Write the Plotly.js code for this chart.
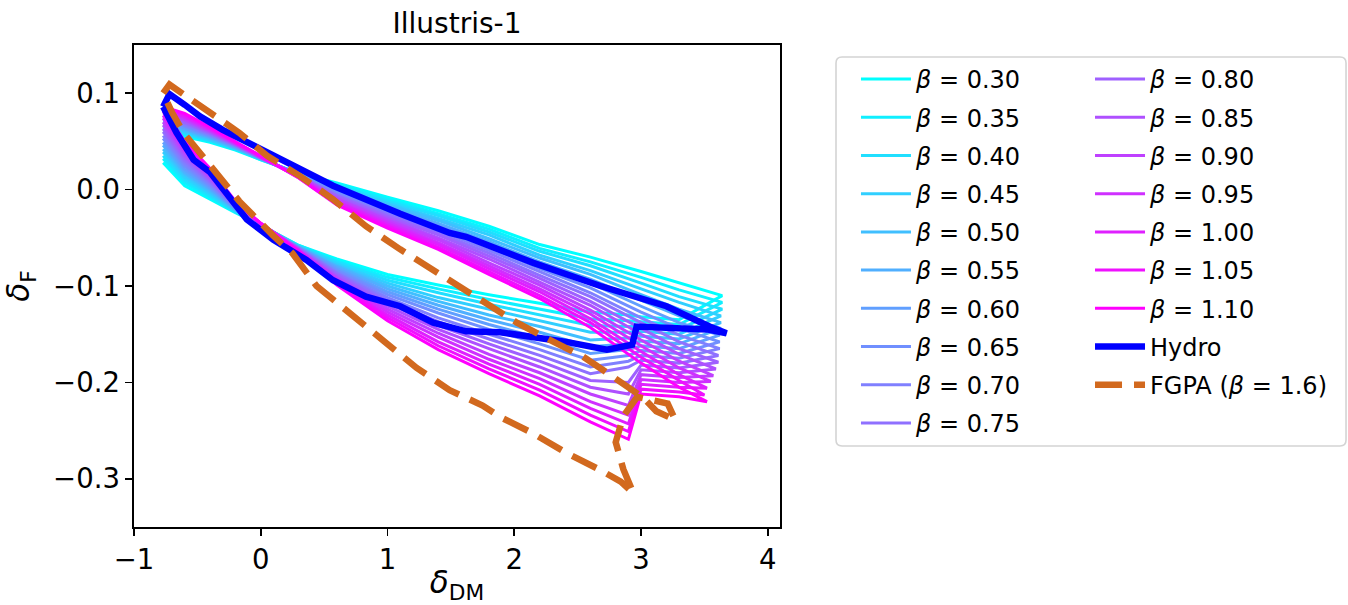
<!DOCTYPE html>
<html><head><meta charset="utf-8">
<script src="https://cdn.plot.ly/plotly-3.0.1.min.js"></script>
<style>html,body{margin:0;padding:0;background:#fff;} #chart{width:1348px;height:605px;}</style>
</head><body><div id="chart"></div>
<script>
// beta values of the contours
const betas = [0.30,0.35,0.40,0.45,0.50,0.55,0.60,0.65,0.70,0.75,0.80,0.85,0.90,0.95,1.00,1.05,1.10];
// delta_DM positions along the top edge (left to right) and bottom edge (right to left)
const xTop = [-0.77,-0.6,-0.4,-0.2,0.0,0.3,0.6,1.0,1.4,1.8,2.2,2.6,3.0,3.3];
const xBot = [3.3,3.0,2.9,2.6,2.2,1.8,1.4,1.0,0.6,0.3,0.0,-0.2,-0.4,-0.6,-0.77];
const tipX = [3.64,3.64,3.64,3.63,3.63,3.63,3.62,3.62,3.62,3.61,3.61,3.59,3.57,3.55,3.52,3.50,3.52];
// delta_F along each contour: 14 top-edge values, tip, 15 bottom-edge values
const beta030 = [0.062,0.055,0.049,0.041,0.031,0.017,0.007,-0.008,-0.022,-0.038,-0.057,-0.070,-0.085,-0.097, -0.110, -0.135,-0.132,-0.130,-0.127,-0.118,-0.109,-0.099,-0.088,-0.072,-0.058,-0.037,-0.024,-0.010,0.004,0.028];
const beta035 = [0.064,0.057,0.050,0.042,0.031,0.017,0.006,-0.010,-0.025,-0.041,-0.061,-0.075,-0.091,-0.104, -0.117, -0.140,-0.137,-0.136,-0.134,-0.124,-0.114,-0.103,-0.091,-0.074,-0.058,-0.037,-0.023,-0.008,0.007,0.032];
const beta040 = [0.065,0.058,0.051,0.042,0.032,0.016,0.004,-0.012,-0.027,-0.044,-0.064,-0.079,-0.097,-0.111, -0.124, -0.145,-0.142,-0.142,-0.141,-0.130,-0.119,-0.107,-0.094,-0.075,-0.059,-0.037,-0.023,-0.006,0.010,0.035];
const beta045 = [0.067,0.060,0.052,0.043,0.032,0.016,0.003,-0.014,-0.030,-0.047,-0.068,-0.084,-0.103,-0.117, -0.131, -0.150,-0.147,-0.148,-0.148,-0.136,-0.124,-0.112,-0.097,-0.077,-0.059,-0.037,-0.022,-0.004,0.013,0.039];
const beta050 = [0.068,0.061,0.053,0.043,0.032,0.016,0.001,-0.016,-0.032,-0.051,-0.071,-0.088,-0.109,-0.124, -0.138, -0.155,-0.152,-0.154,-0.156,-0.142,-0.130,-0.116,-0.100,-0.079,-0.060,-0.037,-0.021,-0.002,0.016,0.042];
const beta055 = [0.070,0.063,0.054,0.044,0.032,0.016,0.000,-0.018,-0.035,-0.054,-0.075,-0.093,-0.115,-0.131, -0.144, -0.160,-0.157,-0.160,-0.163,-0.148,-0.135,-0.120,-0.103,-0.080,-0.060,-0.036,-0.020,0.000,0.018,0.046];
const beta060 = [0.071,0.064,0.055,0.044,0.032,0.015,-0.002,-0.020,-0.037,-0.057,-0.078,-0.097,-0.121,-0.138, -0.151, -0.165,-0.162,-0.166,-0.170,-0.154,-0.140,-0.124,-0.106,-0.082,-0.060,-0.036,-0.020,0.002,0.021,0.049];
const beta065 = [0.073,0.066,0.056,0.045,0.033,0.015,-0.003,-0.022,-0.040,-0.060,-0.082,-0.102,-0.127,-0.144, -0.158, -0.170,-0.167,-0.172,-0.177,-0.160,-0.145,-0.128,-0.109,-0.084,-0.061,-0.036,-0.019,0.004,0.024,0.053];
const beta070 = [0.074,0.067,0.057,0.046,0.033,0.015,-0.005,-0.024,-0.042,-0.063,-0.085,-0.107,-0.133,-0.151, -0.165, -0.175,-0.172,-0.178,-0.184,-0.166,-0.150,-0.133,-0.112,-0.086,-0.061,-0.036,-0.018,0.006,0.027,0.056];
const beta075 = [0.076,0.069,0.058,0.046,0.033,0.014,-0.006,-0.026,-0.045,-0.066,-0.089,-0.111,-0.138,-0.158, -0.172, -0.180,-0.177,-0.184,-0.191,-0.172,-0.155,-0.137,-0.115,-0.087,-0.061,-0.036,-0.017,0.008,0.030,0.060];
const beta080 = [0.077,0.070,0.059,0.047,0.033,0.014,-0.007,-0.028,-0.047,-0.069,-0.092,-0.116,-0.144,-0.165, -0.179, -0.185,-0.182,-0.200,-0.198,-0.178,-0.160,-0.141,-0.118,-0.089,-0.062,-0.036,-0.017,0.010,0.033,0.063];
const beta085 = [0.079,0.072,0.060,0.047,0.034,0.014,-0.009,-0.030,-0.050,-0.072,-0.096,-0.120,-0.150,-0.171, -0.186, -0.190,-0.187,-0.212,-0.205,-0.184,-0.165,-0.145,-0.121,-0.091,-0.062,-0.036,-0.016,0.012,0.036,0.067];
const beta090 = [0.080,0.073,0.061,0.048,0.034,0.014,-0.010,-0.032,-0.052,-0.076,-0.099,-0.125,-0.156,-0.178, -0.193, -0.195,-0.192,-0.224,-0.212,-0.190,-0.171,-0.149,-0.124,-0.092,-0.063,-0.036,-0.015,0.014,0.039,0.070];
const beta095 = [0.082,0.075,0.062,0.048,0.034,0.013,-0.012,-0.034,-0.055,-0.079,-0.103,-0.129,-0.162,-0.185, -0.199, -0.200,-0.197,-0.234,-0.220,-0.196,-0.176,-0.153,-0.127,-0.094,-0.063,-0.035,-0.014,0.016,0.041,0.074];
const beta100 = [0.083,0.076,0.063,0.049,0.034,0.013,-0.013,-0.036,-0.057,-0.082,-0.106,-0.134,-0.168,-0.192, -0.206, -0.205,-0.202,-0.243,-0.227,-0.202,-0.181,-0.158,-0.130,-0.096,-0.063,-0.035,-0.014,0.018,0.044,0.077];
const beta105 = [0.085,0.078,0.064,0.049,0.035,0.012,-0.015,-0.038,-0.060,-0.085,-0.110,-0.138,-0.174,-0.198, -0.213, -0.210,-0.207,-0.251,-0.234,-0.208,-0.186,-0.162,-0.133,-0.097,-0.064,-0.035,-0.013,0.020,0.047,0.081];
const beta110 = [0.086,0.079,0.065,0.050,0.035,0.012,-0.016,-0.040,-0.062,-0.088,-0.113,-0.143,-0.180,-0.205, -0.220, -0.215,-0.212,-0.259,-0.241,-0.214,-0.191,-0.166,-0.136,-0.099,-0.064,-0.035,-0.012,0.022,0.050,0.084];
const betaCurves = [beta030,beta035,beta040,beta045,beta050,beta055,beta060,beta065,beta070,beta075,beta080,beta085,beta090,beta095,beta100,beta105,beta110];

// Hydro contour
const hydroX = [-0.77,-0.72,-0.60,-0.48,-0.30,-0.11,0.15,0.57,1.10,1.49,1.62,2.15,2.68,3.20,3.54,3.675,3.52,2.965,2.93,2.83,2.73,2.41,1.89,1.62,1.36,1.10,0.83,0.57,0.36,0.10,-0.11,-0.40,-0.53,-0.665,-0.77];
const hydroY = [0.086,0.099,0.088,0.076,0.062,0.049,0.031,0.004,-0.025,-0.045,-0.049,-0.076,-0.100,-0.121,-0.142,-0.149,-0.145,-0.142,-0.161,-0.164,-0.166,-0.158,-0.148,-0.147,-0.138,-0.121,-0.111,-0.094,-0.073,-0.052,-0.031,0.018,0.031,0.059,0.086];
// FGPA (beta = 1.6) contour
const fgpaX = [-0.77,-0.72,-0.60,-0.48,-0.17,0.05,0.31,0.57,0.83,1.10,1.49,1.75,2.02,2.28,2.54,2.72,2.87,3.02,3.12,3.27,3.21,2.97,2.86,2.80,2.86,2.94,2.84,2.68,2.41,2.15,1.89,1.75,1.49,1.23,0.97,0.70,0.44,0.25,0.10,-0.17,-0.40,-0.61,-0.70,-0.77];
const fgpaY = [0.100,0.109,0.098,0.087,0.059,0.035,0.014,-0.010,-0.038,-0.062,-0.095,-0.117,-0.138,-0.156,-0.173,-0.189,-0.203,-0.216,-0.230,-0.239,-0.222,-0.215,-0.235,-0.262,-0.290,-0.315,-0.303,-0.291,-0.273,-0.253,-0.236,-0.224,-0.208,-0.185,-0.157,-0.128,-0.100,-0.066,-0.048,-0.012,0.024,0.059,0.080,0.100];

const xTick = [-1,0,1,2,3,4];
const yTick = [-0.3,-0.2,-0.1,0.0,0.1];

function coolColor(t){
  return 'rgb(' + Math.round(255*t) + ',' + Math.round(255*(1-t)) + ',255)';
}

const traces = [];
betas.forEach(function(b, i){
  traces.push({
    type:'scatter', mode:'lines',
    x: xTop.concat([tipX[i]], xBot),
    y: betaCurves[i],
    name: '<i>β</i> = ' + b.toFixed(2),
    line:{color: coolColor(i/(betas.length-1)), width:3},
    legend: i < 10 ? 'legend' : 'legend2',
    legendgroup: 'g' + i,
    hoverinfo:'skip'
  });
});
traces.push({type:'scatter', mode:'lines', x:hydroX, y:hydroY, name:'Hydro',
  line:{color:'#0000ff', width:6.5}, legend:'legend2', legendgroup:'hydro', hoverinfo:'skip'});
traces.push({type:'scatter', mode:'lines', x:fgpaX, y:fgpaY, name:'FGPA (<i>β</i> = 1.6)',
  line:{color:'#d2691e', width:6.5, dash:'27px,12px'}, legend:'legend2', legendgroup:'fgpa', hoverinfo:'skip'});

// legend frame (rounded rectangle in paper units)
const PW = 646, PH = 482;
const bx0 = 1.0867, bx1 = 1.8762, by0 = 0.1680, by1 = 0.9751;
const rx = 6/PW, ry = 6/PH;
const framePath = 'M' + (bx0+rx) + ',' + by1 + ' L' + (bx1-rx) + ',' + by1 +
  ' Q' + bx1 + ',' + by1 + ' ' + bx1 + ',' + (by1-ry) +
  ' L' + bx1 + ',' + (by0+ry) + ' Q' + bx1 + ',' + by0 + ' ' + (bx1-rx) + ',' + by0 +
  ' L' + (bx0+rx) + ',' + by0 + ' Q' + bx0 + ',' + by0 + ' ' + bx0 + ',' + (by0+ry) +
  ' L' + bx0 + ',' + (by1-ry) + ' Q' + bx0 + ',' + by1 + ' ' + (bx0+rx) + ',' + by1 + ' Z';

const axisCommon = {
  ticks:'outside', ticklen:7, tickwidth:1.6, tickcolor:'#000',
  showline:true, linewidth:1.6, linecolor:'#000', mirror:true,
  showgrid:false, zeroline:false, tickfont:{size:27.5, color:'#000'}, automargin:false
};

const legendCommon = {
  xref:'paper', yref:'paper', xanchor:'left', yanchor:'top', y:0.9751,
  font:{size:24, color:'#000', family:'DejaVu Sans'}, bgcolor:'rgba(0,0,0,0)',
  borderwidth:0, itemwidth:50, tracegroupgap:4, traceorder:'grouped'
};

const layout = {
  width:1348, height:605,
  margin:{l:134, r:568, t:45, b:78, pad:0},
  paper_bgcolor:'#ffffff', plot_bgcolor:'#ffffff',
  font:{family:'DejaVu Sans', size:26, color:'#000'},
  showlegend:true,
  title:{text:'Illustris-1', font:{size:28, color:'#000'}, x:0.5, xref:'paper', xanchor:'center',
         y:1-23/605, yref:'container', yanchor:'middle'},
  xaxis: Object.assign({}, axisCommon, {range:[-1.0,4.096], tickvals:xTick,
         title:{text:'<i>δ</i><sub>DM</sub>', font:{size:31, color:'#000'}, standoff:4}}),
  yaxis: Object.assign({}, axisCommon, {range:[-0.35,0.15], tickvals:yTick, tickformat:'.1f',
         title:{text:'<i>δ</i><sub>F</sub>', font:{size:31, color:'#000'}, standoff:14}}),
  legend: Object.assign({}, legendCommon, {x:1.1176}),
  legend2: Object.assign({}, legendCommon, {x:1.4799}),
  shapes:[{type:'path', xref:'paper', yref:'paper', path:framePath,
           line:{color:'#d4d4d4', width:1.6}, fillcolor:'rgba(0,0,0,0)', layer:'above'}]
};

Plotly.newPlot('chart', traces, layout, {displayModeBar:false, staticPlot:true});
</script>
</body></html>
